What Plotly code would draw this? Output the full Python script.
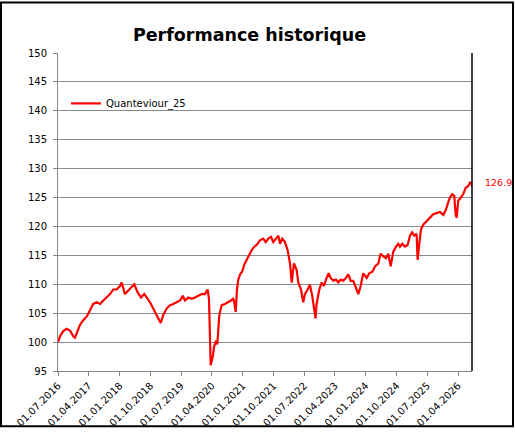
import plotly.graph_objects as go

# ---- data ----
series_name = "Quanteviour_25"

dates = [
    "2016-07-01", "2016-07-19", "2016-08-17", "2016-09-16", "2016-10-16", "2016-11-14",
    "2016-11-29", "2016-12-14", "2017-01-13", "2017-02-11", "2017-03-13", "2017-04-12",
    "2017-05-11", "2017-06-10", "2017-07-10", "2017-08-08", "2017-09-07", "2017-10-07",
    "2017-11-05", "2017-12-05", "2018-01-04", "2018-01-19", "2018-02-17", "2018-03-19",
    "2018-04-18", "2018-05-11", "2018-06-10", "2018-07-10", "2018-08-08", "2018-08-29",
    "2018-09-28", "2018-10-27", "2018-11-20", "2018-12-11", "2019-01-01", "2019-01-24",
    "2019-02-23", "2019-03-25", "2019-04-23", "2019-05-23", "2019-06-22", "2019-07-16",
    "2019-08-05", "2019-09-04", "2019-10-04", "2019-11-02", "2019-12-02", "2020-01-01",
    "2020-01-30", "2020-02-23", "2020-03-06", "2020-03-15", "2020-03-21", "2020-04-08",
    "2020-04-19", "2020-05-07", "2020-05-19", "2020-06-06", "2020-06-27", "2020-07-26",
    "2020-08-25", "2020-09-18", "2020-10-08", "2020-10-17", "2020-10-30", "2020-11-10",
    "2020-11-22", "2020-12-07", "2020-12-27", "2021-01-14", "2021-02-04", "2021-02-25",
    "2021-03-21", "2021-04-13", "2021-05-04", "2021-06-03", "2021-07-02", "2021-07-24",
    "2021-08-16", "2021-09-09", "2021-09-29", "2021-10-23", "2021-11-13", "2021-11-28",
    "2021-12-18", "2022-01-11", "2022-02-04", "2022-02-25", "2022-03-12", "2022-04-01",
    "2022-04-25", "2022-05-10", "2022-06-03", "2022-06-23", "2022-07-08", "2022-08-01",
    "2022-08-22", "2022-09-11", "2022-09-29", "2022-10-10", "2022-10-19", "2022-11-13",
    "2022-12-04", "2022-12-24", "2023-01-17", "2023-02-04", "2023-02-22", "2023-03-17",
    "2023-04-10", "2023-05-01", "2023-05-22", "2023-06-14", "2023-07-08", "2023-07-29",
    "2023-08-19", "2023-09-11", "2023-10-05", "2023-10-26", "2023-11-16", "2023-12-09",
    "2024-01-09", "2024-02-01", "2024-03-02", "2024-03-22", "2024-04-21", "2024-05-12",
    "2024-06-04", "2024-06-28", "2024-07-19", "2024-08-09", "2024-09-01", "2024-09-25",
    "2024-10-16", "2024-10-31", "2024-11-20", "2024-12-14", "2025-01-07", "2025-01-28",
    "2025-02-17", "2025-03-07", "2025-03-28", "2025-04-06", "2025-04-18", "2025-05-06",
    "2025-05-26", "2025-06-26", "2025-07-25", "2025-08-23", "2025-09-22", "2025-10-22",
    "2025-11-20", "2025-12-12", "2026-01-04", "2026-01-19", "2026-02-08", "2026-02-26",
    "2026-03-11", "2026-03-19", "2026-04-03", "2026-04-18", "2026-05-17", "2026-06-08",
    "2026-07-01", "2026-07-16", "2026-07-31", "2026-08-03",
]

values = [
    100.0, 101.0, 101.9, 102.3, 102.0, 101.0,
    100.75, 101.6, 103.0, 103.8, 104.4, 105.5,
    106.6, 106.9, 106.6, 107.2, 107.7, 108.3,
    109.1, 109.1, 109.7, 110.3, 108.3, 108.9,
    109.4, 110.0, 108.6, 107.7, 108.3, 107.7,
    106.9, 105.8, 105.0, 104.1, 103.3, 104.7,
    105.8, 106.4, 106.6, 106.9, 107.2, 108.0,
    107.2, 107.7, 107.5, 107.7, 108.0, 108.3,
    108.3, 109.1, 107.5, 100.7, 96.0, 97.4,
    99.1, 100.2, 99.6, 104.7, 106.4, 106.6,
    106.9, 107.2, 107.5, 106.9, 105.2, 109.1,
    110.8, 111.7, 112.2, 113.4, 114.2, 115.1,
    115.9, 116.5, 116.8, 117.6, 117.9, 117.3,
    117.9, 118.2, 117.3, 117.9, 118.4, 117.0,
    117.9, 117.3, 115.9, 113.6, 110.3, 113.6,
    112.5, 110.3, 109.1, 106.9, 108.3, 109.1,
    109.9, 108.0, 105.8, 104.1, 106.5, 109.1,
    110.3, 109.7, 111.1, 111.9, 111.1, 110.6,
    110.8, 110.3, 110.8, 110.6, 111.1, 111.7,
    110.6, 110.6, 109.4, 108.3, 109.7, 111.9,
    111.1, 111.9, 112.2, 113.1, 113.6, 115.3,
    114.8, 114.5, 115.3, 113.1, 115.6, 116.5,
    117.0, 116.5, 117.0, 116.5, 116.8, 118.4,
    119.0, 118.4, 118.7, 114.2, 116.5, 119.5,
    120.3, 120.9, 121.5, 122.1, 122.3, 122.5,
    122.0, 122.8, 124.2, 125.0, 125.6, 125.3,
    122.0, 121.5, 124.5, 124.8, 125.6, 126.7,
    127.0, 127.6, 127.6, 126.9,
]

tick_dates = [
    "2016-07-01", "2017-04-01", "2018-01-01", "2018-10-01", "2019-07-01",
    "2020-04-01", "2021-01-01", "2021-10-01", "2022-07-01", "2023-04-01",
    "2024-01-01", "2024-10-01", "2025-07-01", "2026-04-01",
]
tick_labels = [
    "01.07.2016", "01.04.2017", "01.01.2018", "01.10.2018", "01.07.2019",
    "01.04.2020", "01.01.2021", "01.10.2021", "01.07.2022", "01.04.2023",
    "01.01.2024", "01.10.2024", "01.07.2025", "01.04.2026",
]

y_min, y_max, y_step = 95, 150, 5
title_text = "Performance historique"

# ---- figure ----
W, H = 515, 440
L, R, T, B = 58, 43, 53, 59
pw, ph = W - L - R, H - T - B

fig = go.Figure()
fig.add_trace(go.Scatter(
    x=dates, y=values, mode="lines", name=series_name,
    line=dict(color="#ff0000", width=2.2),
))

fig.update_layout(
    width=W, height=H,
    margin=dict(l=L, r=R, t=T, b=B, pad=0),
    paper_bgcolor="white", plot_bgcolor="white",
    font=dict(family="DejaVu Sans", size=10, color="black"),
    title=dict(text="<b>" + title_text + "</b>", xref="container", yref="container",
               x=249.5 / W, y=1 - 35 / H, xanchor="center", yanchor="middle",
               font=dict(family="DejaVu Sans", size=17.5, color="black")),
    showlegend=True,
    legend=dict(x=(66 - L) / pw, y=1 - (105 - T) / ph, xanchor="left", yanchor="middle",
                bgcolor="rgba(0,0,0,0)", font=dict(family="DejaVu Sans", size=10, color="black"),
                itemwidth=30),
    xaxis=dict(
        type="date", range=[dates[0], dates[-1]],
        tickmode="array", tickvals=tick_dates, ticktext=tick_labels,
        tickangle=-45, ticks="outside", ticklen=4, tickcolor="#868686",
        showgrid=False, showline=True, linecolor="#868686", linewidth=1,
        zeroline=False, tickfont=dict(family="DejaVu Sans", size=10, color="black"),
    ),
    yaxis=dict(
        range=[y_min, y_max], dtick=y_step, tick0=y_min,
        ticks="outside", ticklen=4, tickcolor="#868686",
        showgrid=True, gridcolor="#8c8c8c", gridwidth=1,
        showline=True, linecolor="#868686", linewidth=1,
        zeroline=False, tickfont=dict(family="DejaVu Sans", size=10, color="black"),
        ticklabelstandoff=4,
    ),
)

# right border of plot area
fig.add_shape(type="line", xref="paper", yref="paper", x0=1, x1=1, y0=0, y1=1,
              line=dict(color="black", width=1.5))
# outer chart border
fig.add_shape(type="rect", xref="paper", yref="paper",
              x0=(1 - L) / pw, x1=(W - 2 - L) / pw,
              y0=-(H - 2 - T - ph) / ph, y1=1 + (T - 1) / ph,
              line=dict(color="black", width=2), fillcolor="rgba(0,0,0,0)", layer="above")

# last value label
fig.add_annotation(x=1, xref="paper", y=values[-1], yref="y",
                   text=f"{values[-1]:.1f}", showarrow=False, xanchor="left", xshift=11,
                   yshift=4, font=dict(family="DejaVu Sans", size=9.5, color="#ff0000"))

fig.write_html("out.html", config={"displayModeBar": False},
               post_script="document.body.style.margin='0';document.body.style.overflow='hidden';")
